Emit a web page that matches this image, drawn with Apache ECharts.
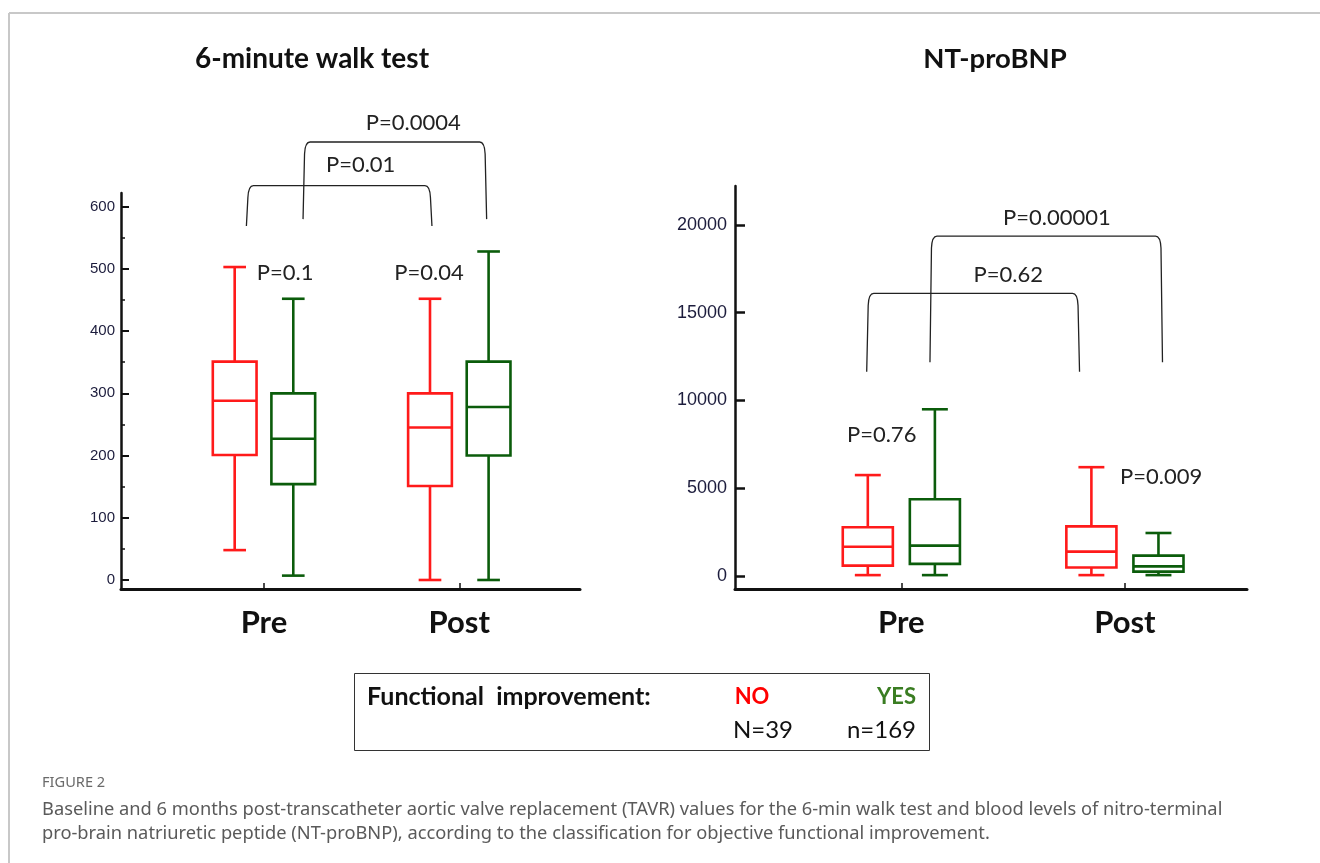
<!DOCTYPE html>
<html>
<head>
<meta charset="utf-8">
<script src="https://cdn.jsdelivr.net/npm/echarts@6/dist/echarts.min.js"></script>
<style>
html,body{margin:0;padding:0;background:#fff;}
#chart{width:1320px;height:863px;}
</style>
</head>
<body>
<div id="chart"></div>
<script>
// categories sit at x = 1 (Pre) and x = 2 (Post) on both panels
const categories = ['Pre', 'Post'];
const walkTicks = [0, 100, 200, 300, 400, 500, 600];
const walkMinorTicks = [50, 150, 250, 350, 450, 550];
const bnpTicks = [0, 5000, 10000, 15000, 20000];

// [min, Q1, median, Q3, max] for Pre and Post
const walkNo = [[48, 201, 288, 351, 503], [0, 151, 245, 300, 452]];
const walkYes = [[7, 154, 227, 300, 452], [0, 200, 278, 351, 528]];
const bnpNo = [[50, 590, 1670, 2780, 5750], [50, 480, 1390, 2830, 6200]];
const bnpYes = [[50, 690, 1730, 4370, 9500], [50, 250, 550, 1160, 2450]];

// brackets: [x from, x to, top, leg end, text x, text y, text]
const walkBrackets = [
    [0.91, 1.86, 634, 569, 1.495, 667, 'P=0.01'],
    [1.2, 2.14, 704, 580, 1.764, 735, 'P=0.0004']
];
const walkPvalues = [[1.108, 494, 'P=0.1'], [1.845, 494, 'P=0.04']];
const bnpBrackets = [
    [0.845, 1.797, 16100, 11640, 1.478, 17150, 'P=0.62'],
    [1.128, 2.168, 19370, 12180, 1.696, 20420, 'P=0.00001']
];
const bnpPvalues = [[0.912, 8030, 'P=0.76'], [2.162, 5660, 'P=0.009']];

const RED = '#ff1a1a';
const GREEN = '#0b5c0b';
const AXIS = '#111';
const TXT = '#222';

function boxSeries(name, color, rows, xIdx, yIdx, shift) {
    return {
        type: 'custom',
        name: name,
        xAxisIndex: xIdx,
        yAxisIndex: yIdx,
        clip: false,
        encode: {x: 0, y: [1, 2, 3, 4, 5]},
        data: rows.map((r, i) => [i + 1 + shift].concat(r)),
        renderItem: function (params, api) {
            let x = api.value(0);
            let px = v => api.coord([v, 0])[0];
            let py = i => api.coord([x, api.value(i)])[1];
            let xl = px(x - 0.112), xr = px(x + 0.112), xc = px(x);
            let cl = px(x - 0.058), cr = px(x + 0.058);
            let st = {stroke: color, lineWidth: 2.6, fill: 'rgba(0,0,0,0)'};
            return {
                type: 'group',
                children: [
                    {type: 'line', shape: {x1: xc, y1: py(4), x2: xc, y2: py(5)}, style: st},
                    {type: 'line', shape: {x1: xc, y1: py(2), x2: xc, y2: py(1)}, style: st},
                    {type: 'line', shape: {x1: cl, y1: py(5), x2: cr, y2: py(5)}, style: st},
                    {type: 'line', shape: {x1: cl, y1: py(1), x2: cr, y2: py(1)}, style: st},
                    {type: 'rect', shape: {x: xl, y: py(4), width: xr - xl, height: py(2) - py(4)}, style: st},
                    {type: 'line', shape: {x1: xl, y1: py(3), x2: xr, y2: py(3)}, style: st}
                ]
            };
        }
    };
}

function textEl(x, y, text, size, weight, color, align) {
    return {
        type: 'text',
        style: {
            text: text, x: x, y: y,
            align: align || 'center', verticalAlign: 'middle',
            textAlign: align || 'center', textVerticalAlign: 'middle',
            fontSize: size, fontWeight: weight || 'normal',
            fontFamily: 'Lato', fill: color || TXT
        }
    };
}

function bracketSeries(list, xIdx, yIdx) {
    return {
        type: 'custom',
        xAxisIndex: xIdx,
        yAxisIndex: yIdx,
        clip: false,
        silent: true,
        data: list.map(b => [b[0], b[2]]),
        renderItem: function (params, api) {
            let b = list[params.dataIndex];
            let p1 = api.coord([b[0], b[2]]);
            let p2 = api.coord([b[1], b[3]]);
            let x1 = p1[0], x2 = p2[0], t = p1[1], bot = p2[1];
            let d = 'M' + x1 + ' ' + bot + ' L' + (x1 + 1.5) + ' ' + (t + 12) +
                ' Q' + (x1 + 2) + ' ' + t + ' ' + (x1 + 7) + ' ' + t +
                ' L' + (x2 - 7) + ' ' + t +
                ' Q' + (x2 - 2) + ' ' + t + ' ' + (x2 - 1.5) + ' ' + (t + 12) +
                ' L' + x2 + ' ' + bot;
            let tp = api.coord([b[4], b[5]]);
            return {
                type: 'group',
                children: [
                    {type: 'path', shape: {pathData: d}, style: {stroke: TXT, lineWidth: 1.3, fill: null}},
                    textEl(tp[0], tp[1], b[6], 22)
                ]
            };
        }
    };
}

function pvalueSeries(list, xIdx, yIdx) {
    return {
        type: 'custom',
        xAxisIndex: xIdx,
        yAxisIndex: yIdx,
        clip: false,
        silent: true,
        data: list.map(p => [p[0], p[1]]),
        renderItem: function (params, api) {
            let p = list[params.dataIndex];
            let c = api.coord([p[0], p[1]]);
            return textEl(c[0], c[1], p[2], 22);
        }
    };
}

function xAxisOf(gridIndex, min, max) {
    return {
        type: 'value', gridIndex: gridIndex, min: min, max: max,
        splitLine: {show: false},
        axisLine: {onZero: false, lineStyle: {color: AXIS, width: 3}},
        axisTick: {customValues: [1, 2], inside: true, length: 6, lineStyle: {color: AXIS, width: 1.5}},
        axisLabel: {
            customValues: [1, 2],
            formatter: v => categories[Math.round(v) - 1],
            margin: 18, fontSize: 31, fontWeight: 'bold', fontFamily: 'Lato', color: AXIS
        }
    };
}

function captionEl(x, y, text, size, color) {
    return {type: 'text', style: {text: text, x: x, y: y, verticalAlign: 'middle', textVerticalAlign: 'middle',
        fontSize: size, fontFamily: 'Noto Sans', fill: color}};
}

let myChart = echarts.init(document.getElementById('chart'));
let options = {
    animation: false,
    backgroundColor: '#fff',
    grid: [
        {left: 121, top: 193, width: 459, height: 396},
        {left: 735, top: 186, width: 512, height: 403}
    ],
    xAxis: [
        xAxisOf(0, 0.268, 2.618),
        xAxisOf(1, 0.256, 2.546)
    ],
    yAxis: [
        {
            type: 'value', gridIndex: 0, position: 'left', min: -14.5, max: 622,
            splitLine: {show: false},
            axisLine: {show: true, onZero: false, lineStyle: {color: AXIS, width: 2.5}},
            axisTick: {customValues: walkTicks, inside: true, length: 8, lineStyle: {color: AXIS, width: 2}},
            axisLabel: {customValues: walkTicks, margin: 6, fontSize: 15, fontFamily: 'Liberation Sans', color: '#1c1c3c'}
        },
        {
            type: 'value', gridIndex: 0, position: 'left', min: -14.5, max: 622,
            splitLine: {show: false},
            axisLine: {show: false, onZero: false},
            axisTick: {customValues: walkMinorTicks, inside: true, length: 4, lineStyle: {color: AXIS, width: 1.5}},
            axisLabel: {show: false}
        },
        {
            type: 'value', gridIndex: 1, position: 'left', min: -741, max: 22222,
            splitLine: {show: false},
            axisLine: {show: true, onZero: false, lineStyle: {color: AXIS, width: 2.5}},
            axisTick: {customValues: bnpTicks, inside: true, length: 10, lineStyle: {color: AXIS, width: 2.5}},
            axisLabel: {customValues: bnpTicks, formatter: v => String(v), margin: 8, fontSize: 18,
                fontFamily: 'Liberation Sans', color: '#1c1c3c'}
        }
    ],
    graphic: [
        {type: 'line', shape: {x1: 9, y1: 13, x2: 1320, y2: 13}, style: {stroke: '#c8c8c8', lineWidth: 2}},
        {type: 'line', shape: {x1: 9, y1: 13, x2: 9, y2: 863}, style: {stroke: '#c8c8c8', lineWidth: 2}},
        textEl(312, 59, '6-minute walk test', 28, 'bold', AXIS),
        textEl(995, 59, 'NT-proBNP', 27.5, 'bold', AXIS),
        {type: 'rect', shape: {x: 354.5, y: 673.5, width: 575, height: 77}, style: {stroke: '#333', lineWidth: 1, fill: '#fff'}},
        textEl(367, 697, 'Functional  improvement:', 25, 'bold', AXIS, 'left'),
        textEl(752, 697, 'NO', 22, 'bold', '#ff0000'),
        textEl(916, 697, 'YES', 22, 'bold', '#3a7d22', 'right'),
        textEl(763, 730, 'N=39', 24, 'normal', AXIS),
        textEl(916, 730, 'n=169', 24, 'normal', AXIS, 'right'),
        captionEl(42, 783, 'FIGURE 2', 14.6, '#6a6a6a'),
        captionEl(42, 810, 'Baseline and 6 months post-transcatheter aortic valve replacement (TAVR) values for the 6-min walk test and blood levels of nitro-terminal', 18.3, '#5a5a5a'),
        captionEl(42, 834, 'pro-brain natriuretic peptide (NT-proBNP), according to the classification for objective functional improvement.', 18.3, '#5a5a5a')
    ],
    series: [
        boxSeries('NO', RED, walkNo, 0, 0, -0.15),
        boxSeries('YES', GREEN, walkYes, 0, 0, 0.15),
        boxSeries('NO', RED, bnpNo, 1, 2, -0.15),
        boxSeries('YES', GREEN, bnpYes, 1, 2, 0.15),
        bracketSeries(walkBrackets, 0, 0),
        pvalueSeries(walkPvalues, 0, 0),
        bracketSeries(bnpBrackets, 1, 2),
        pvalueSeries(bnpPvalues, 1, 2)
    ]
};
myChart.setOption(options);
</script>
</body>
</html>
